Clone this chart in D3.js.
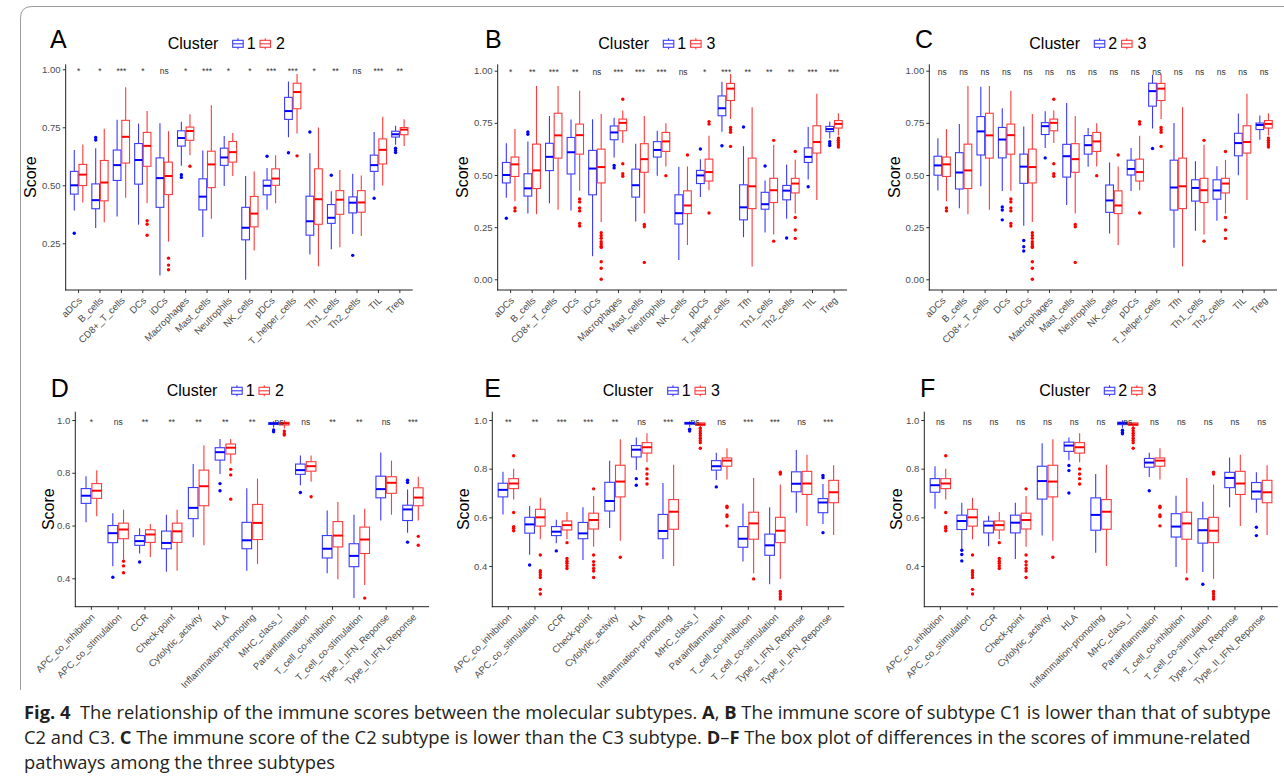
<!DOCTYPE html>
<html><head><meta charset="utf-8">
<script src="https://cdn.jsdelivr.net/npm/d3@7"></script>
<style>body{margin:0;background:#fff}svg{display:block}</style>
</head><body>
<svg id="c" width="1284" height="782"></svg>
<script>
const immuneCats = ["aDCs","B_cells","CD8+_T_cells","DCs","iDCs","Macrophages","Mast_cells","Neutrophils","NK_cells","pDCs","T_helper_cells","Tfh","Th1_cells","Th2_cells","TIL","Treg"];
const pathwayCats = ["APC_co_inhibition","APC_co_stimulation","CCR","Check-point","Cytolytic_activity","HLA","Inflammation-promoting","MHC_class_I","Parainflammation","T_cell_co-inhibition","T_cell_co-stimulation","Type_I_IFN_Reponse","Type_II_IFN_Reponse"];

// box stats per category: [lower whisker, Q1, median, Q3, upper whisker]
const immuneC1 = [
 [0.391,0.462,0.500,0.560,0.652],[0.316,0.399,0.436,0.506,0.660],[0.365,0.521,0.587,0.652,0.783],
 [0.330,0.505,0.609,0.680,0.766],[0.111,0.405,0.531,0.618,0.767],[0.584,0.669,0.704,0.735,0.774],
 [0.277,0.394,0.451,0.528,0.650],[0.497,0.586,0.620,0.660,0.712],[0.093,0.265,0.317,0.405,0.540],
 [0.395,0.459,0.498,0.522,0.575],[0.707,0.784,0.820,0.879,0.947],[0.202,0.285,0.345,0.453,0.638],
 [0.224,0.336,0.360,0.417,0.474],[0.290,0.381,0.425,0.450,0.550],[0.478,0.560,0.587,0.630,0.730],
 [0.675,0.708,0.720,0.733,0.757]];
const immuneC1Out = [[0.293],[0.706,0.695],[],[],[],[0.546,0.534],[],[],[],[0.625],[0.640],[0.730],[0.543],[0.198],[0.444],[0.660,0.650,0.641]];

const immuneC2 = [
 [0.426,0.499,0.546,0.590,0.676],[0.341,0.433,0.512,0.607,0.744],[0.446,0.596,0.709,0.780,0.923],
 [0.423,0.582,0.670,0.728,0.820],[0.257,0.460,0.540,0.600,0.733],[0.629,0.694,0.734,0.751,0.806],
 [0.356,0.490,0.590,0.647,0.845],[0.540,0.600,0.643,0.689,0.725],[0.219,0.321,0.378,0.452,0.560],
 [0.423,0.500,0.529,0.571,0.629],[0.723,0.830,0.902,0.940,0.980],[0.151,0.332,0.440,0.571,0.749],
 [0.233,0.375,0.438,0.477,0.566],[0.281,0.384,0.426,0.477,0.542],[0.499,0.592,0.653,0.700,0.795],
 [0.669,0.718,0.740,0.749,0.785]];
const immuneC2Out = [[],[],[],[0.347,0.332,0.285],[0.186,0.156,0.136],[0.582],[],[],[],[],[0.627],[],[],[],[],[]];

const immuneC3 = [
 [0.374,0.493,0.551,0.586,0.720],[0.312,0.435,0.522,0.648,0.927],[0.334,0.581,0.690,0.796,0.927],
 [0.424,0.600,0.691,0.744,0.904],[0.275,0.462,0.538,0.624,0.793],[0.653,0.712,0.750,0.768,0.809],
 [0.315,0.513,0.576,0.650,0.783],[0.541,0.613,0.661,0.704,0.748],[0.164,0.315,0.354,0.424,0.541],
 [0.427,0.471,0.514,0.576,0.688],[0.769,0.857,0.914,0.939,0.984],[0.061,0.339,0.446,0.581,0.825],
 [0.215,0.368,0.427,0.484,0.645],[0.315,0.414,0.459,0.484,0.573],[0.380,0.605,0.658,0.736,0.889],
 [0.689,0.725,0.745,0.761,0.796]];
const immuneC3Out = [[0.342,0.328],[],[],[0.385,0.371,0.342,0.328,0.268,0.255],
 [0.223,0.210,0.197,0.180,0.169,0.159,0.153,0.084,0.053,0.0],[0.863,0.554,0.506,0.494],[0.263,0.252,0.081],
 [0.497],[0.596],[0.756,0.744,0.318],[0.728,0.717,0.705,0.637],[],[0.666,0.183],[0.613,0.296,0.236,0.196],[],
 [0.677,0.666,0.656,0.645,0.634]];

const pathC1 = [
 [0.612,0.684,0.713,0.740,0.787],[0.446,0.535,0.571,0.600,0.647],[0.494,0.525,0.541,0.562,0.590],
 [0.425,0.512,0.534,0.579,0.641],[0.556,0.626,0.667,0.744,0.833],[0.795,0.848,0.878,0.895,0.928],
 [0.429,0.512,0.544,0.612,0.741],[0.972,0.983,0.987,0.990,0.995],[0.753,0.794,0.810,0.833,0.865],
 [0.419,0.477,0.512,0.562,0.657],[0.325,0.444,0.485,0.531,0.641],[0.619,0.705,0.738,0.787,0.877],
 [0.573,0.619,0.661,0.677,0.737]];
const pathC1Out = [[],[0.404],[0.462],[],[],[0.759,0.732],[],[0.962,0.955],[0.725],[],[],[],[0.772,0.763,0.537]];

const pathC2 = [
 [0.635,0.703,0.732,0.759,0.810],[0.471,0.550,0.585,0.609,0.660],[0.481,0.536,0.566,0.584,0.606],
 [0.429,0.536,0.578,0.609,0.660],[0.525,0.675,0.749,0.810,0.904],[0.835,0.871,0.895,0.909,0.928],
 [0.454,0.547,0.610,0.680,0.778],[0.968,0.981,0.987,0.991,0.999],[0.766,0.806,0.825,0.842,0.865],
 [0.396,0.519,0.562,0.615,0.689],[0.375,0.494,0.547,0.594,0.664],[0.641,0.722,0.762,0.785,0.846],
 [0.619,0.675,0.706,0.743,0.785]];
const pathC2Out = [[],[0.465,0.447,0.421],[],[],[],[0.813,0.792,0.700],[],[0.958,0.949,0.943],[0.709],[],[0.325],[],[0.559,0.525]];

const pathC3 = [
 [0.673,0.718,0.739,0.759,0.800],[0.510,0.564,0.600,0.633,0.680],[0.510,0.548,0.568,0.585,0.622],
 [0.479,0.552,0.589,0.617,0.688],[0.504,0.684,0.747,0.814,0.921],[0.826,0.864,0.888,0.907,0.946],
 [0.400,0.551,0.623,0.673,0.816],[0.970,0.978,0.982,0.988,0.990],[0.755,0.810,0.833,0.844,0.884],
 [0.370,0.510,0.575,0.621,0.762],[0.347,0.496,0.545,0.600,0.735],[0.564,0.694,0.739,0.789,0.857],
 [0.527,0.660,0.703,0.752,0.814]];
const pathC3Out = [[0.853,0.620,0.562,0.555,0.545],[0.445,0.381,0.373,0.363,0.353,0.304,0.285],
 [0.496,0.431,0.420,0.411,0.400,0.390],[0.717,0.445,0.418,0.404,0.390,0.379,0.353],[0.436],
 [0.799,0.778,0.759,0.737],[],[0.966,0.956,0.946,0.936,0.925,0.916,0.907,0.884],
 [0.646,0.640,0.610,0.603,0.565],[0.347],[0.785,0.778,0.295,0.285,0.274,0.264],[],[]];

const sigA = ["*","*","***","*","ns","*","***","*","*","***","***","*","**","ns","***","**"];
const sigB = ["*","**","***","**","ns","***","***","***","ns","*","***","**","**","**","***","***"];
const sigC = ["ns","ns","ns","ns","ns","ns","ns","ns","ns","ns","ns","ns","ns","ns","ns","ns"];
const sigD = ["*","ns","**","**","**","**","**","ns","ns","**","**","ns","***"];
const sigE = ["**","**","***","***","**","ns","***","ns","ns","***","***","ns","***"];
const sigF = ["ns","ns","ns","ns","ns","ns","ns","ns","ns","ns","ns","ns","ns"];

const ticksA = [0.25,0.50,0.75,1.00];
const ticksBC = [0.00,0.25,0.50,0.75,1.00];
const ticksDEF = [0.4,0.6,0.8,1.0];

const panels = [
 {letter:"A",cats:immuneCats,g:[immuneC1,immuneC2],o:[immuneC1Out,immuneC2Out],lab:["1","2"],sig:sigA,ticks:ticksA,fmt:".2f",
  x0:65.7,x1:412.7,yTop:64.3,yBot:290,yd:[0.25,1],yr:[243.3,69.3],lx:50,ly:48.3,gx:167.7,gy:49.3,sx:35.5},
 {letter:"B",cats:immuneCats,g:[immuneC1,immuneC3],o:[immuneC1Out,immuneC3Out],lab:["1","3"],sig:sigB,ticks:ticksBC,fmt:".2f",
  x0:497.7,x1:847,yTop:64.3,yBot:290,yd:[0,1],yr:[279.3,70.7],lx:485,ly:48.3,gx:598.3,gy:49.3,sx:468},
 {letter:"C",cats:immuneCats,g:[immuneC2,immuneC3],o:[immuneC2Out,immuneC3Out],lab:["2","3"],sig:sigC,ticks:ticksBC,fmt:".2f",
  x0:929.3,x1:1277,yTop:64.3,yBot:290,yd:[0,1],yr:[279.3,70.7],lx:915,ly:48.3,gx:1029.3,gy:49.3,sx:900},
 {letter:"D",cats:pathwayCats,g:[pathC1,pathC2],o:[pathC1Out,pathC2Out],lab:["1","2"],sig:sigD,ticks:ticksDEF,fmt:".1f",
  x0:75.3,x1:429,yTop:411.7,yBot:606.7,yd:[0.4,1],yr:[578.3,420],lx:50.7,ly:396.7,gx:166.7,gy:396.3,sx:54},
 {letter:"E",cats:pathwayCats,g:[pathC1,pathC3],o:[pathC1Out,pathC3Out],lab:["1","3"],sig:sigE,ticks:ticksDEF,fmt:".1f",
  x0:492.3,x1:844.3,yTop:411.7,yBot:606.7,yd:[0.4,1],yr:[566,420],lx:484.3,ly:396.7,gx:602.7,gy:396.3,sx:469},
 {letter:"F",cats:pathwayCats,g:[pathC2,pathC3],o:[pathC2Out,pathC3Out],lab:["2","3"],sig:sigF,ticks:ticksDEF,fmt:".1f",
  x0:924.3,x1:1277.8,yTop:411.7,yBot:606.7,yd:[0.4,1],yr:[566,420],lx:920,ly:396.7,gx:1039.3,gy:396.3,sx:902}
];

const svg = d3.select("#c");
const FONT = "'Liberation Sans', Arial, Helvetica, sans-serif";
const DOT = ["#0000ff","#ff0000"];
const LINE = ["#3a3aff","#ff3a3a"];

// figure frame
svg.append("path")
  .attr("d","M20.5,690 L20.5,18 Q20.5,6.5 32,6.5 L1290,6.5")
  .attr("fill","none").attr("stroke","#9a9a9a").attr("stroke-width",1);

function legendIcon(g, x, cy, col){
  g.append("rect").attr("x",x).attr("y",cy-3.5).attr("width",10.5).attr("height",7)
    .attr("fill","#fff").attr("stroke",col).attr("stroke-width",1.1);
  g.append("line").attr("x1",x).attr("x2",x+10.5).attr("y1",cy).attr("y2",cy).attr("stroke",col).attr("stroke-width",1.1);
  g.append("line").attr("x1",x+5.25).attr("x2",x+5.25).attr("y1",cy-5.5).attr("y2",cy-3.5).attr("stroke",col).attr("stroke-width",1.1);
  g.append("line").attr("x1",x+5.25).attr("x2",x+5.25).attr("y1",cy+3.5).attr("y2",cy+5.5).attr("stroke",col).attr("stroke-width",1.1);
}

function drawPanel(p){
  const g = svg.append("g").attr("font-family",FONT);
  const x = d3.scaleBand().domain(p.cats).range([p.x0,p.x1]).paddingInner(0).paddingOuter(0.1);
  const y = d3.scaleLinear().domain(p.yd).range(p.yr);
  const step = x.bandwidth();
  const sub = d3.scaleBand().domain([0,1]).range([-0.4*step,0.4*step]);
  const bw = sub.bandwidth()*0.9;

  const ya = g.append("g").attr("transform",`translate(${p.x0},0)`)
    .call(d3.axisLeft(y).tickValues(p.ticks).tickFormat(d3.format(p.fmt)).tickSize(3).tickPadding(2));
  ya.select(".domain").remove();
  ya.selectAll("text").attr("font-size",9.6).attr("fill","#4d4d4d").attr("font-family",FONT);
  ya.selectAll("line").attr("stroke","#333");
  const xa = g.append("g").attr("transform",`translate(0,${p.yBot})`)
    .call(d3.axisBottom(x).tickSize(3));
  xa.select(".domain").remove();
  xa.selectAll("line").attr("stroke","#333");
  xa.selectAll("text").attr("x",0).attr("y",0).attr("dy",null)
    .attr("transform","translate(4,11) rotate(-45)").attr("text-anchor","end")
    .attr("font-size",9.6).attr("fill","#4d4d4d").attr("font-family",FONT);
  g.append("line").attr("x1",p.x0).attr("x2",p.x0).attr("y1",p.yTop).attr("y2",p.yBot+0.5).attr("stroke","#222").attr("stroke-width",1);
  g.append("line").attr("x1",p.x0-0.5).attr("x2",p.x1).attr("y1",p.yBot).attr("y2",p.yBot).attr("stroke","#222").attr("stroke-width",1);

  [0,1].forEach(gi=>{
    const stats = p.g[gi], outs = p.o[gi];
    p.cats.forEach((c,i)=>{
      const [lo,q1,md,q3,hi] = stats[i];
      const cx = x(c) + step/2 + sub(gi) + sub.bandwidth()/2;
      const bg = g.append("g");
      bg.append("line").attr("x1",cx).attr("x2",cx).attr("y1",y(hi)).attr("y2",y(q3)).attr("stroke",LINE[gi]).attr("stroke-width",1.1);
      bg.append("line").attr("x1",cx).attr("x2",cx).attr("y1",y(q1)).attr("y2",y(lo)).attr("stroke",LINE[gi]).attr("stroke-width",1.1);
      bg.append("rect").attr("x",cx-bw/2).attr("y",y(q3)).attr("width",bw).attr("height",Math.max(0.5,y(q1)-y(q3)))
        .attr("fill","#fff").attr("stroke",LINE[gi]).attr("stroke-width",1.1);
      bg.append("line").attr("x1",cx-bw/2).attr("x2",cx+bw/2).attr("y1",y(md)).attr("y2",y(md)).attr("stroke",DOT[gi]).attr("stroke-width",2);
      bg.selectAll("circle").data(outs[i]).join("circle")
        .attr("cx",cx).attr("cy",d=>y(d)).attr("r",1.7).attr("fill",DOT[gi]);
    });
  });

  g.selectAll("text.sig").data(p.sig).join("text").attr("class","sig")
    .attr("x",(d,i)=>x(p.cats[i])+step/2).attr("y",y(1.0)+4.7)
    .attr("text-anchor","middle").attr("font-size",8.5).attr("fill","#333").text(d=>d);

  g.append("text").attr("x",p.lx).attr("y",p.ly).attr("font-size",25).attr("fill","#000").text(p.letter);
  g.append("text").attr("transform",`translate(${p.sx},${(p.yTop+p.yBot)/2}) rotate(-90)`)
    .attr("text-anchor","middle").attr("font-size",16).attr("fill","#000").text("Score");

  g.append("text").attr("x",p.gx).attr("y",p.gy).attr("font-size",16).attr("fill","#000").text("Cluster");
  const cy = p.gy - 5.5;
  legendIcon(g, p.gx+65, cy, LINE[0]);
  g.append("text").attr("x",p.gx+79).attr("y",p.gy).attr("font-size",16).text(p.lab[0]);
  legendIcon(g, p.gx+92.3, cy, LINE[1]);
  g.append("text").attr("x",p.gx+108.3).attr("y",p.gy).attr("font-size",16).text(p.lab[1]);
}
panels.forEach(drawPanel);

const capLines = [
 [["Fig. 4",true],["  The relationship of the immune scores between the molecular subtypes. ",false],["A",true],[", ",false],["B",true],[" The immune score of subtype C1 is lower than that of subtype",false]],
 [["C2 and C3. ",false],["C",true],[" The immune score of the C2 subtype is lower than the C3 subtype. ",false],["D",true],["–",false],["F",true],[" The box plot of differences in the scores of immune-related",false]],
 [["pathways among the three subtypes",false]]
];
const capY = [719, 744, 768.5];
const cap = svg.append("g").attr("font-family","'Open Sans','Noto Sans',sans-serif").attr("fill","#231f20");
const capTexts = capLines.map((ln,li)=>{
  const t = cap.append("text").attr("x",24).attr("y",capY[li]).attr("font-size",17).attr("xml:space","preserve").style("white-space","pre");
  ln.forEach(([s,b])=>t.append("tspan").attr("font-weight",b?"bold":"normal").text(s));
  return t;
});
const w0 = capTexts[0].node().getComputedTextLength();
const fs = 17*1248/w0;
capTexts.forEach(t=>t.attr("font-size",fs));
</script>
</body></html>
